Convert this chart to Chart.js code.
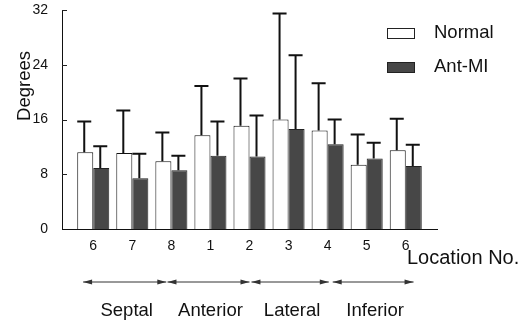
<!DOCTYPE html>
<html>
<head>
<meta charset="utf-8">
<script src="https://cdn.jsdelivr.net/npm/chart.js@4/dist/chart.umd.min.js"></script>
<style>
  html, body { margin: 0; padding: 0; background: #fff; }
  #wrap { width: 527px; height: 325px; }
</style>
</head>
<body>
<div id="wrap"><canvas id="chart"></canvas></div>
<script>
// data
const locations = ["6", "7", "8", "1", "2", "3", "4", "5", "6"];
const normalMean = [11.2, 11.1, 9.9, 13.7, 15.1, 16.0, 14.4, 9.4, 11.5];
const normalSD = [4.5, 6.2, 4.2, 7.2, 6.9, 15.5, 6.9, 4.4, 4.6];
const antMean = [8.9, 7.4, 8.6, 10.7, 10.6, 14.6, 12.4, 10.3, 9.2];
const antSD = [3.2, 3.6, 2.1, 5.0, 6.0, 10.8, 3.6, 2.3, 3.1];
const yTicks = [0, 8, 16, 24, 32];
const regions = ["Septal", "Anterior", "Lateral", "Inferior"];
// arrow spans in location units (1 = first location)
const regionSpans = [[0.74, 2.87], [2.9, 5.0], [5.05, 7.03], [7.13, 9.2]];

const FONT = "'Liberation Sans', Arial, sans-serif";

// upward-only error bars with caps, inward y ticks, legend, titles, region arrows
const extras = {
    id: "extras",
    afterDatasetsDraw(chart) {
        const ctx = chart.ctx;
        const y = chart.scales.y;
        const x = chart.scales.x;
        const sds = [normalSD, antSD];

        ctx.save();
        ctx.strokeStyle = "#111";
        ctx.lineWidth = 2;
        chart.data.datasets.forEach((ds, di) => {
            const meta = chart.getDatasetMeta(di);
            meta.data.forEach((bar, i) => {
                const top = y.getPixelForValue(ds.data[i].y + sds[di][i]);
                const half = bar.width / 2 - 1;
                ctx.beginPath();
                ctx.moveTo(bar.x - 1, bar.y);
                ctx.lineTo(bar.x - 1, top);
                ctx.moveTo(bar.x - 1 - half, top);
                ctx.lineTo(bar.x - 1 + half, top);
                ctx.stroke();
            });
        });

        // small inward ticks on the y axis
        ctx.lineWidth = 1;
        ctx.strokeStyle = "#222";
        yTicks.slice(1).forEach(v => {
            const py = Math.round(y.getPixelForValue(v)) + 0.5;
            ctx.beginPath();
            ctx.moveTo(chart.chartArea.left, py);
            ctx.lineTo(chart.chartArea.left + 5, py);
            ctx.stroke();
        });

        // y title
        ctx.fillStyle = "#111";
        ctx.font = "18.5px " + FONT;
        ctx.textAlign = "center";
        ctx.textBaseline = "middle";
        ctx.save();
        ctx.translate(25, 86);
        ctx.rotate(-Math.PI / 2);
        ctx.fillText("Degrees", 0, 0);
        ctx.restore();

        // legend
        ctx.textAlign = "left";
        chart.data.datasets.forEach((ds, di) => {
            const ly = 33 + di * 34;
            ctx.fillStyle = ds.backgroundColor;
            ctx.fillRect(387, ly - 5, 28, 11);
            ctx.strokeStyle = "#222";
            ctx.lineWidth = 1;
            ctx.strokeRect(387.5, ly - 4.5, 27, 10);
            ctx.fillStyle = "#111";
            ctx.fillText(ds.label, 434, ly);
        });

        // x axis title
        ctx.font = "20px " + FONT;
        ctx.fillText("Location No.", 407, 258);

        // region arrows and names
        ctx.font = "18.5px " + FONT;
        const ay = 282;
        ctx.strokeStyle = "#333";
        ctx.fillStyle = "#333";
        regionSpans.forEach((span, k) => {
            const x0 = x.getPixelForValue(span[0]);
            const x1 = x.getPixelForValue(span[1]);
            ctx.beginPath();
            ctx.moveTo(x0, ay);
            ctx.lineTo(x1, ay);
            ctx.stroke();
            ctx.beginPath();
            ctx.moveTo(x0, ay);
            ctx.lineTo(x0 + 9, ay - 2.5);
            ctx.lineTo(x0 + 9, ay + 2.5);
            ctx.closePath();
            ctx.moveTo(x1, ay);
            ctx.lineTo(x1 - 9, ay - 2.5);
            ctx.lineTo(x1 - 9, ay + 2.5);
            ctx.closePath();
            ctx.fill();

            ctx.fillStyle = "#111";
            ctx.textAlign = "center";
            ctx.fillText(regions[k], (x0 + x1) / 2 + 2, 311);
            ctx.fillStyle = "#333";
        });
        ctx.restore();
    }
};

new Chart(document.getElementById("chart"), {
    type: "bar",
    data: {
        datasets: [
            {
                label: "Normal",
                data: normalMean.map((v, i) => ({ x: i + 1, y: v })),
                backgroundColor: "#ffffff",
                borderColor: "#111",
                borderWidth: 1
            },
            {
                label: "Ant-MI",
                data: antMean.map((v, i) => ({ x: i + 1, y: v })),
                backgroundColor: "#474747",
                borderColor: "#222",
                borderWidth: 1
            }
        ]
    },
    options: {
        responsive: true,
        maintainAspectRatio: false,
        animation: false,
        categoryPercentage: 0.82,
        barPercentage: 1.0,
        layout: { padding: { left: 0, right: 90, top: 10, bottom: 0 } },
        plugins: {
            legend: { display: false },
            tooltip: { enabled: false }
        },
        scales: {
            x: {
                type: "linear",
                offset: false,
                min: 0.2,
                max: 9.8,
                afterBuildTicks: s => { s.ticks = locations.map((_, i) => ({ value: i + 1 })); },
                afterFit: s => { s.height = 96; s.paddingLeft = 0; s.paddingRight = 0; },
                grid: { display: false, drawTicks: false },
                border: { display: true, color: "#111", width: 1 },
                ticks: {
                    autoSkip: false,
                    maxRotation: 0,
                    padding: 9,
                    color: "#111",
                    font: { family: FONT, size: 14 },
                    callback: v => locations[v - 1] || ""
                }
            },
            y: {
                min: 0,
                max: 32,
                afterBuildTicks: s => { s.ticks = yTicks.map(v => ({ value: v })); },
                afterFit: s => { s.width = 62; s.paddingTop = 0; s.paddingBottom = 0; },
                grid: { display: false, drawTicks: false },
                border: { display: true, color: "#111", width: 1 },
                ticks: {
                    padding: 14,
                    color: "#111",
                    font: { family: FONT, size: 14 }
                }
            }
        }
    },
    plugins: [extras]
});
</script>
</body>
</html>
